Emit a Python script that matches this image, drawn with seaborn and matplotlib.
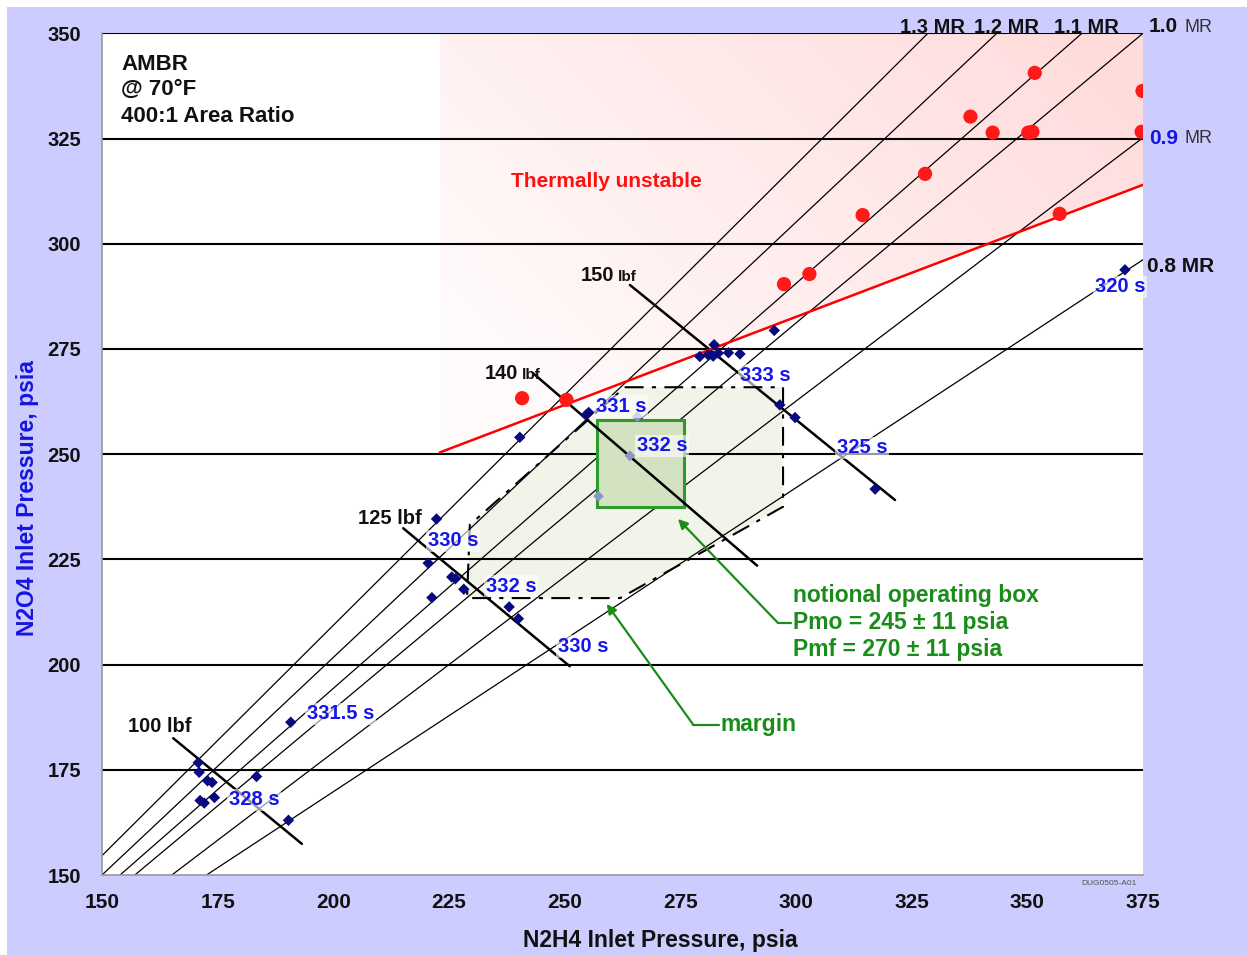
import numpy as np
import pandas as pd
import matplotlib
matplotlib.use("Agg")
import matplotlib.pyplot as plt
import seaborn as sns
from matplotlib.patches import Polygon, Rectangle

# ---------------- data ----------------
x_ticks = [150, 175, 200, 225, 250, 275, 300, 325, 350, 375]
y_ticks = [150, 175, 200, 225, 250, 275, 300, 325, 350]

# mixture-ratio lines (endpoints)
mr_labels = ["1.3 MR", "1.2 MR", "1.1 MR", "1.0 MR", "0.9 MR", "0.8 MR"]
mr_x0 = [150.0, 150.0, 153.9, 157.1, 165.1, 172.6]
mr_y0 = [154.6, 150.0, 150.0, 150.0, 150.0, 150.0]
mr_x1 = [328.5, 343.4, 361.8, 375.0, 375.0, 375.0]
mr_y1 = [350.0, 350.0, 350.0, 350.0, 325.2, 296.2]

# thrust lines
thrust_labels = ["100", "125", "140", "150"]
thrust_x0 = [165.4, 215.1, 243.2, 264.1]
thrust_y0 = [182.5, 232.4, 269.2, 290.2]
thrust_x1 = [193.2, 251.1, 291.6, 321.4]
thrust_y1 = [157.4, 199.6, 223.5, 239.1]
thrust_lx = [162.5, 212.2, 237.7, 258.6]
thrust_ly = [185.2, 234.6, 269.1, 292.4]

# test points (N2H4, N2O4)
test_x = [170.8, 171.0, 172.8, 173.8, 171.2, 172.1, 174.3, 183.4, 190.3, 190.8,
          222.3, 220.5, 225.6, 226.4, 228.2, 221.3, 238.0, 240.0,
          240.3, 254.6, 255.2, 295.3, 282.3, 279.2, 281.0, 282.1, 283.2, 285.4, 287.9,
          296.5, 299.8, 317.1, 371.1]
test_y = [176.7, 174.4, 172.4, 172.0, 167.7, 167.1, 168.4, 173.4, 163.0, 186.3,
          234.6, 224.1, 220.8, 220.4, 217.9, 215.9, 213.7, 210.9,
          254.0, 259.3, 259.9, 279.4, 276.0, 273.2, 273.6, 273.3, 274.0, 274.1, 273.8,
          261.7, 258.7, 241.7, 293.8]
faint_x = [265.7, 264.1, 257.3]
faint_y = [258.9, 249.6, 240.0]

# thermally unstable points
hot_x = [240.8, 250.4, 297.4, 302.9, 314.4, 327.9, 337.7, 342.5, 350.2, 351.1,
         351.6, 357.0, 374.9, 374.7]
hot_y = [263.3, 262.9, 290.4, 292.8, 306.8, 316.6, 330.2, 326.4, 326.4, 326.6,
         340.6, 307.1, 336.3, 326.6]

# stability boundary
bound_x = [223.0, 375.0]
bound_y = [250.4, 314.0]

# Isp labels
isp_text = ["320 s", "333 s", "331 s", "332 s", "325 s", "330 s", "332 s", "330 s", "331.5 s", "328 s"]
isp_x = [370.0, 293.3, 262.2, 271.1, 314.3, 225.9, 238.4, 254.0, 201.5, 182.9]
isp_y = [289.8, 268.8, 261.3, 252.0, 251.5, 229.4, 218.6, 204.3, 188.3, 167.9]

# operating box and margin
box_x = [256.9, 275.8]
box_y = [237.4, 258.1]
margin_x = [263.0, 297.2, 297.2, 262.0, 228.9, 229.5]
margin_y = [265.9, 265.9, 237.5, 215.8, 215.8, 233.2]

# ---------------- figure ----------------
sns.set_theme(style="white")
plt.rcParams["font.family"] = ["Liberation Sans", "DejaVu Sans"]
plt.rcParams["font.weight"] = "bold"

W, H = 1247, 955
fig = plt.figure(figsize=(W / 100, H / 100), dpi=100)
fig.patch.set_facecolor("#ccccff")
# thin white margins at top and left
fig.patches.append(Rectangle((0, 1 - 7 / H), 1, 7 / H, transform=fig.transFigure,
                             facecolor="white", edgecolor="none", zorder=0))
fig.patches.append(Rectangle((0, 0), 7 / W, 1, transform=fig.transFigure,
                             facecolor="white", edgecolor="none", zorder=0))

ax = fig.add_axes([102 / W, (H - 875) / H, (1143 - 102) / W, (875 - 33.3) / H])
ax.set_facecolor("white")
ax.set_xlim(150, 375)
ax.set_ylim(150, 350)

# pink gradient region (thermally unstable)
gx = np.linspace(0, 1, 200)
gy = np.linspace(0, 1, 200)
GX, GY = np.meshgrid(gx, gy)
t = np.clip(0.75 * GX + 0.45 * (1 - GY) - 0.15, 0, 1)
rgba = np.zeros((200, 200, 4))
rgba[..., 0] = 1.0
rgba[..., 1] = 0.78
rgba[..., 2] = 0.78
rgba[..., 3] = 0.08 + 0.55 * t
im = ax.imshow(rgba, extent=(bound_x[0], bound_x[1], bound_y[0], 350), origin="upper",
               aspect="auto", zorder=0.5, interpolation="bilinear")
clip = Polygon([(bound_x[0], bound_y[0]), (bound_x[1], bound_y[1]), (375, 350), (bound_x[0], 350)],
               closed=True, transform=ax.transData, facecolor="none", edgecolor="none")
ax.add_patch(clip)
im.set_clip_path(clip)
ax.set_xlim(150, 375)
ax.set_ylim(150, 350)

# margin polygon
ax.add_patch(Polygon(list(zip(margin_x, margin_y)), closed=True, facecolor="#f1f4e8",
                     edgecolor="none", zorder=0.6))
ax.add_patch(Polygon(list(zip(margin_x, margin_y)), closed=True, facecolor="none",
                     edgecolor="black", lw=1.5, linestyle=(0, (9, 4, 2, 4)), zorder=2.5))

# horizontal grid
for yv in y_ticks[1:]:
    ax.axhline(yv, color="black", lw=1.5, zorder=1)

# MR lines
df_mr = pd.DataFrame({
    "x": mr_x0 + mr_x1,
    "y": mr_y0 + mr_y1,
    "id": list(range(len(mr_x0))) * 2,
})
sns.lineplot(data=df_mr, x="x", y="y", units="id", estimator=None, sort=False,
             color="black", lw=0.9, ax=ax, zorder=2, legend=False)

# green operating box
ax.add_patch(Rectangle((box_x[0], box_y[0]), box_x[1] - box_x[0], box_y[1] - box_y[0],
                       facecolor="#d3e2c0", edgecolor="#2e9a2e", lw=2.2, zorder=2.2))

# thrust lines
df_th = pd.DataFrame({
    "x": thrust_x0 + thrust_x1,
    "y": thrust_y0 + thrust_y1,
    "id": list(range(len(thrust_x0))) * 2,
})
sns.lineplot(data=df_th, x="x", y="y", units="id", estimator=None, sort=False,
             color="black", lw=1.8, ax=ax, zorder=3, legend=False)

# stability boundary
sns.lineplot(x=bound_x, y=bound_y, color="#ff0000", lw=1.8, ax=ax, zorder=3, legend=False)

# points
sns.scatterplot(x=test_x, y=test_y, marker="D", color="#0a0a80", s=34, edgecolor="none",
                ax=ax, zorder=4, legend=False)
sns.scatterplot(x=faint_x, y=faint_y, marker="D", color="#8a96c8", s=30, edgecolor="none",
                ax=ax, zorder=4, legend=False)
sns.scatterplot(x=hot_x, y=hot_y, marker="o", color="#ff1a1a", s=105, edgecolor="none",
                ax=ax, zorder=4, legend=False)

ax.set_xlim(150, 375)
ax.set_ylim(150, 350)

# ---------------- axes styling ----------------
ax.set_xticks(x_ticks)
ax.set_yticks(y_ticks)
ax.set_xticklabels([str(v) for v in x_ticks], fontsize=15, fontweight="bold", color="#111111")
ax.set_yticklabels([str(v) for v in y_ticks], fontsize=14.5, fontweight="bold", color="#111111")
ax.tick_params(axis="x", direction="out", length=6, width=1, color="#888888", pad=7)
ax.tick_params(axis="y", direction="out", length=6, width=1, color="#888888", pad=9)
for s in ["top", "right"]:
    ax.spines[s].set_visible(False)
for s in ["left", "bottom"]:
    ax.spines[s].set_color("#999999")
    ax.spines[s].set_linewidth(1.2)

ax.set_xlabel("")
ax.set_ylabel("")
fig.text(660 / W, 1 - 940 / H, "N2H4 Inlet Pressure, psia", fontsize=16.5, fontweight="bold",
         color="#111111", ha="center", va="center")
fig.text(28 / W, 1 - 498 / H, "N2O4 Inlet Pressure, psia", fontsize=16.5, fontweight="bold",
         color="#1515e0", ha="center", va="center", rotation=90)

# ---------------- text ----------------
txt = dict(fontweight="bold", zorder=6)
ax.text(154.1, 342.5, "AMBR", fontsize=16, color="#111111", va="center", ha="left", **txt)
ax.text(154.1, 336.6, "@ 70°F", fontsize=16, color="#111111", va="center", ha="left", **txt)
ax.text(154.1, 330.3, "400:1 Area Ratio", fontsize=16, color="#111111", va="center", ha="left", **txt)

ax.text(259.1, 314.7, "Thermally unstable", fontsize=15, color="#ff1010", va="center", ha="center", **txt)

# MR labels
for lab, xx in zip(mr_labels[:3], [329.6, 345.4, 362.8]):
    ax.text(xx, 351.4, lab, fontsize=14.5, color="#111111", va="center", ha="center",
            clip_on=False, **txt)
ax.text(376.3, 351.6, "1.0", fontsize=15, color="#111111", va="center", ha="left", clip_on=False, **txt)
ax.text(383.9, 351.4, "MR", fontsize=13, color="#333333", fontweight="normal", va="center", ha="left",
        clip_on=False, zorder=6)
ax.text(376.3, 325.1, "0.9", fontsize=15, color="#1515e0", va="center", ha="left", clip_on=False, **txt)
ax.text(383.9, 324.9, "MR", fontsize=13, color="#333333", fontweight="normal", va="center", ha="left",
        clip_on=False, zorder=6)
ax.text(375.8, 294.6, "0.8 MR", fontsize=15, color="#111111", va="center", ha="left", clip_on=False, **txt)

# thrust labels
for i, (lab, lx, ly) in enumerate(zip(thrust_labels, thrust_lx, thrust_ly)):
    if i < 2:
        ax.text(lx, ly, lab + " lbf", fontsize=14.5, color="#111111", va="center", ha="center", **txt)
    else:
        ax.text(lx + 2.2, ly, lab, fontsize=14.5, color="#111111", va="center", ha="right", **txt)
        ax.text(lx + 3.0, ly - 0.3, "lbf", fontsize=11, color="#111111", va="center", ha="left", **txt)

# Isp labels
for s_, xx, yy in zip(isp_text, isp_x, isp_y):
    ax.text(xx, yy, s_, fontsize=14.5, color="#1515ee", va="center", ha="center", clip_on=False,
            bbox=dict(boxstyle="square,pad=0.08", facecolor="white", edgecolor="none", alpha=0.6),
            **txt)

# green annotations
green = "#1a8c1a"
ax.text(299.3, 216.3, "notional operating box", fontsize=16.5, color=green, va="center", ha="left", **txt)
ax.text(299.3, 209.9, "Pmo = 245 ± 11 psia", fontsize=16.5, color=green, va="center", ha="left", **txt)
ax.text(299.3, 203.5, "Pmf = 270 ± 11 psia", fontsize=16.5, color=green, va="center", ha="left", **txt)
ax.plot([299.0, 296.1], [209.9, 209.9], color=green, lw=1.6, zorder=5)
ax.annotate("", xy=(274.5, 234.6), xytext=(296.1, 209.9),
            arrowprops=dict(arrowstyle="-|>", color=green, lw=1.6, mutation_scale=14,
                            shrinkA=0, shrinkB=0), zorder=5)
ax.text(283.6, 185.7, "margin", fontsize=16.5, color=green, va="center", ha="left", **txt)
ax.plot([283.3, 277.8], [185.7, 185.7], color=green, lw=1.6, zorder=5)
ax.annotate("", xy=(259.1, 214.4), xytext=(277.8, 185.7),
            arrowprops=dict(arrowstyle="-|>", color=green, lw=1.6, mutation_scale=14,
                            shrinkA=0, shrinkB=0), zorder=5)

ax.text(373.6, 147.9, "DUG0505-A01", fontsize=6, color="#555555", fontweight="normal",
        va="center", ha="right", clip_on=False)

fig.savefig("out.png", dpi=100, facecolor=fig.get_facecolor())
